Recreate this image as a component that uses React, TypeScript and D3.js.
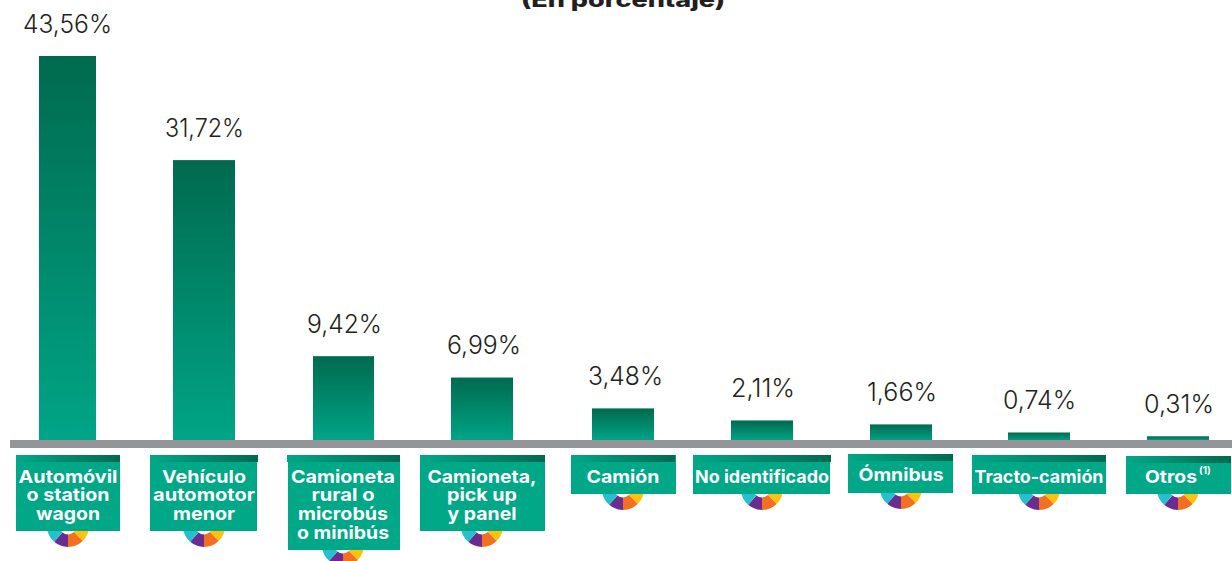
import React from "react";
import * as d3 from "d3";

const categories = ["Automóvil o station wagon", "Vehículo automotor menor", "Camioneta rural o microbús o minibús", "Camioneta, pick up y panel", "Camión", "No identificado", "Ómnibus", "Tracto-camión", "Otros"];
const values = [43.56, 31.72, 9.42, 6.99, 3.48, 2.11, 1.66, 0.74, 0.31];
const valueLabels = ["43,56%", "31,72%", "9,42%", "6,99%", "3,48%", "2,11%", "1,66%", "0,74%", "0,31%"];
const labelLines = [["Automóvil", "o station", "wagon"], ["Vehículo", "automotor", "menor"], ["Camioneta", "rural o", "microbús", "o minibús"], ["Camioneta,", "pick up", "y panel"], ["Camión"], ["No identificado"], ["Ómnibus"], ["Tracto-camión"], ["Otros"]];
const title = "(En porcentaje)";

const barX0 = [39, 173, 313, 451, 592, 731, 870, 1008, 1147];
const barX1 = [96, 235, 374, 513, 654, 793, 932, 1070, 1209];
const boxX0 = [16, 150, 288, 420, 571, 693, 848, 972, 1126];
const boxX1 = [120, 257, 400, 545, 676, 830, 953, 1106, 1231];
const stripX1 = [120, 258, 400, 545, 675, 831, 953, 1106, 1231];
const stripX0 = [16, 150, 287, 420, 571, 693, 848, 972, 1126];
const boxY0 = [455, 455, 455, 455, 455, 455, 454, 455, 456];
const boxY1 = [531, 531, 550, 531, 494, 494, 493, 494, 494];
const donutX = [68, 204, 343, 482, 623, 762, 901, 1039, 1178];
const labelMid = [67.5, 204.5, 344.5, 484, 625.5, 763, 902, 1039.5, 1179];
const labelW = [89, 79, 75, 74, 75, 64, 70, 73, 70];
const textW = [[99, 83, 64], [84, 102, 62], [104, 63, 90, 92], [109, 70, 69], [73], [134], [85], [129], [52]];
const textMid = [68, 204, 343, 482, 623, 762, 901, 1039, 1171];
const firstBaseline = [482.7, 482.7, 482.7, 482.7, 482.7, 482.7, 481, 482.7, 482.7];

const donutColors = ["#ffc20e", "#f36f21", "#6a2c91", "#26bfce"];
const donutAngles = [90, 136, 180, 221, 270];

const FONT = "Inter, 'Open Sans', sans-serif";
const y = d3.scaleLinear().domain([0, 43.56]).range([439, 56]);
const arc = d3.arc();

function Donut({ cx, cy }: { cx: number; cy: number }) {
  return (
    <g transform={`translate(${cx},${cy})`}>
      {donutColors.map((c, i) => (
        <path key={c} fill={c} d={arc({ innerRadius: 8.5, outerRadius: 21, startAngle: (donutAngles[i] * Math.PI) / 180, endAngle: (donutAngles[i + 1] * Math.PI) / 180 }) as string} />
      ))}
    </g>
  );
}

export default function App() {
  return (
    <svg width={1232} height={561} style={{ position: "absolute", left: 0, top: 0, background: "#fff" }}>
      <defs>
        <linearGradient id="barGrad" x1="0" y1="0" x2="0" y2="1">
          <stop offset="0" stopColor="#006a4e" />
          <stop offset="1" stopColor="#00a587" />
        </linearGradient>
        <linearGradient id="stripGrad" x1="0" y1="0" x2="1" y2="0">
          <stop offset="0" stopColor="#00a888" />
          <stop offset="1" stopColor="#006a4e" />
        </linearGradient>
      </defs>
      <text x={623} y={7} textAnchor="middle" fontFamily={FONT} fontWeight={800} fontSize={20} fill="#231f20" textLength={204} lengthAdjust="spacingAndGlyphs">{title}</text>
      {categories.map((c, i) => {
        const top = y(values[i]);
        return (
          <g key={c}>
            <Donut cx={donutX[i]} cy={boxY1[i] - 5} />
            <rect x={barX0[i]} y={top} width={barX1[i] - barX0[i]} height={441 - top} fill="url(#barGrad)" />
            <text x={labelMid[i]} y={top - 23.5} textAnchor="middle" fontFamily={FONT} fontWeight={300} fontSize={25} fill="#231f20" textLength={labelW[i]} lengthAdjust="spacingAndGlyphs">{valueLabels[i]}</text>
            <rect x={boxX0[i]} y={boxY0[i]} width={boxX1[i] - boxX0[i]} height={boxY1[i] - boxY0[i]} fill="#00a887" />
            <rect x={stripX0[i]} y={boxY0[i]} width={stripX1[i] - stripX0[i]} height={7} fill="url(#stripGrad)" />
            {labelLines[i].map((line, k) => (
              <text key={line} x={textMid[i]} y={firstBaseline[i] + k * 18.7} textAnchor="middle" fontFamily={FONT} fontWeight={700} fontSize={18} fill="#fff" textLength={textW[i][k]} lengthAdjust="spacingAndGlyphs">
                {line}
              </text>
            ))}
          </g>
        );
      })}
      <text x={1199} y={474} fontFamily={FONT} fontWeight={700} fontSize={10} fill="#fff">(1)</text>
      <rect x={10} y={440} width={1222} height={8} fill="#939598" />
    </svg>
  );
}
